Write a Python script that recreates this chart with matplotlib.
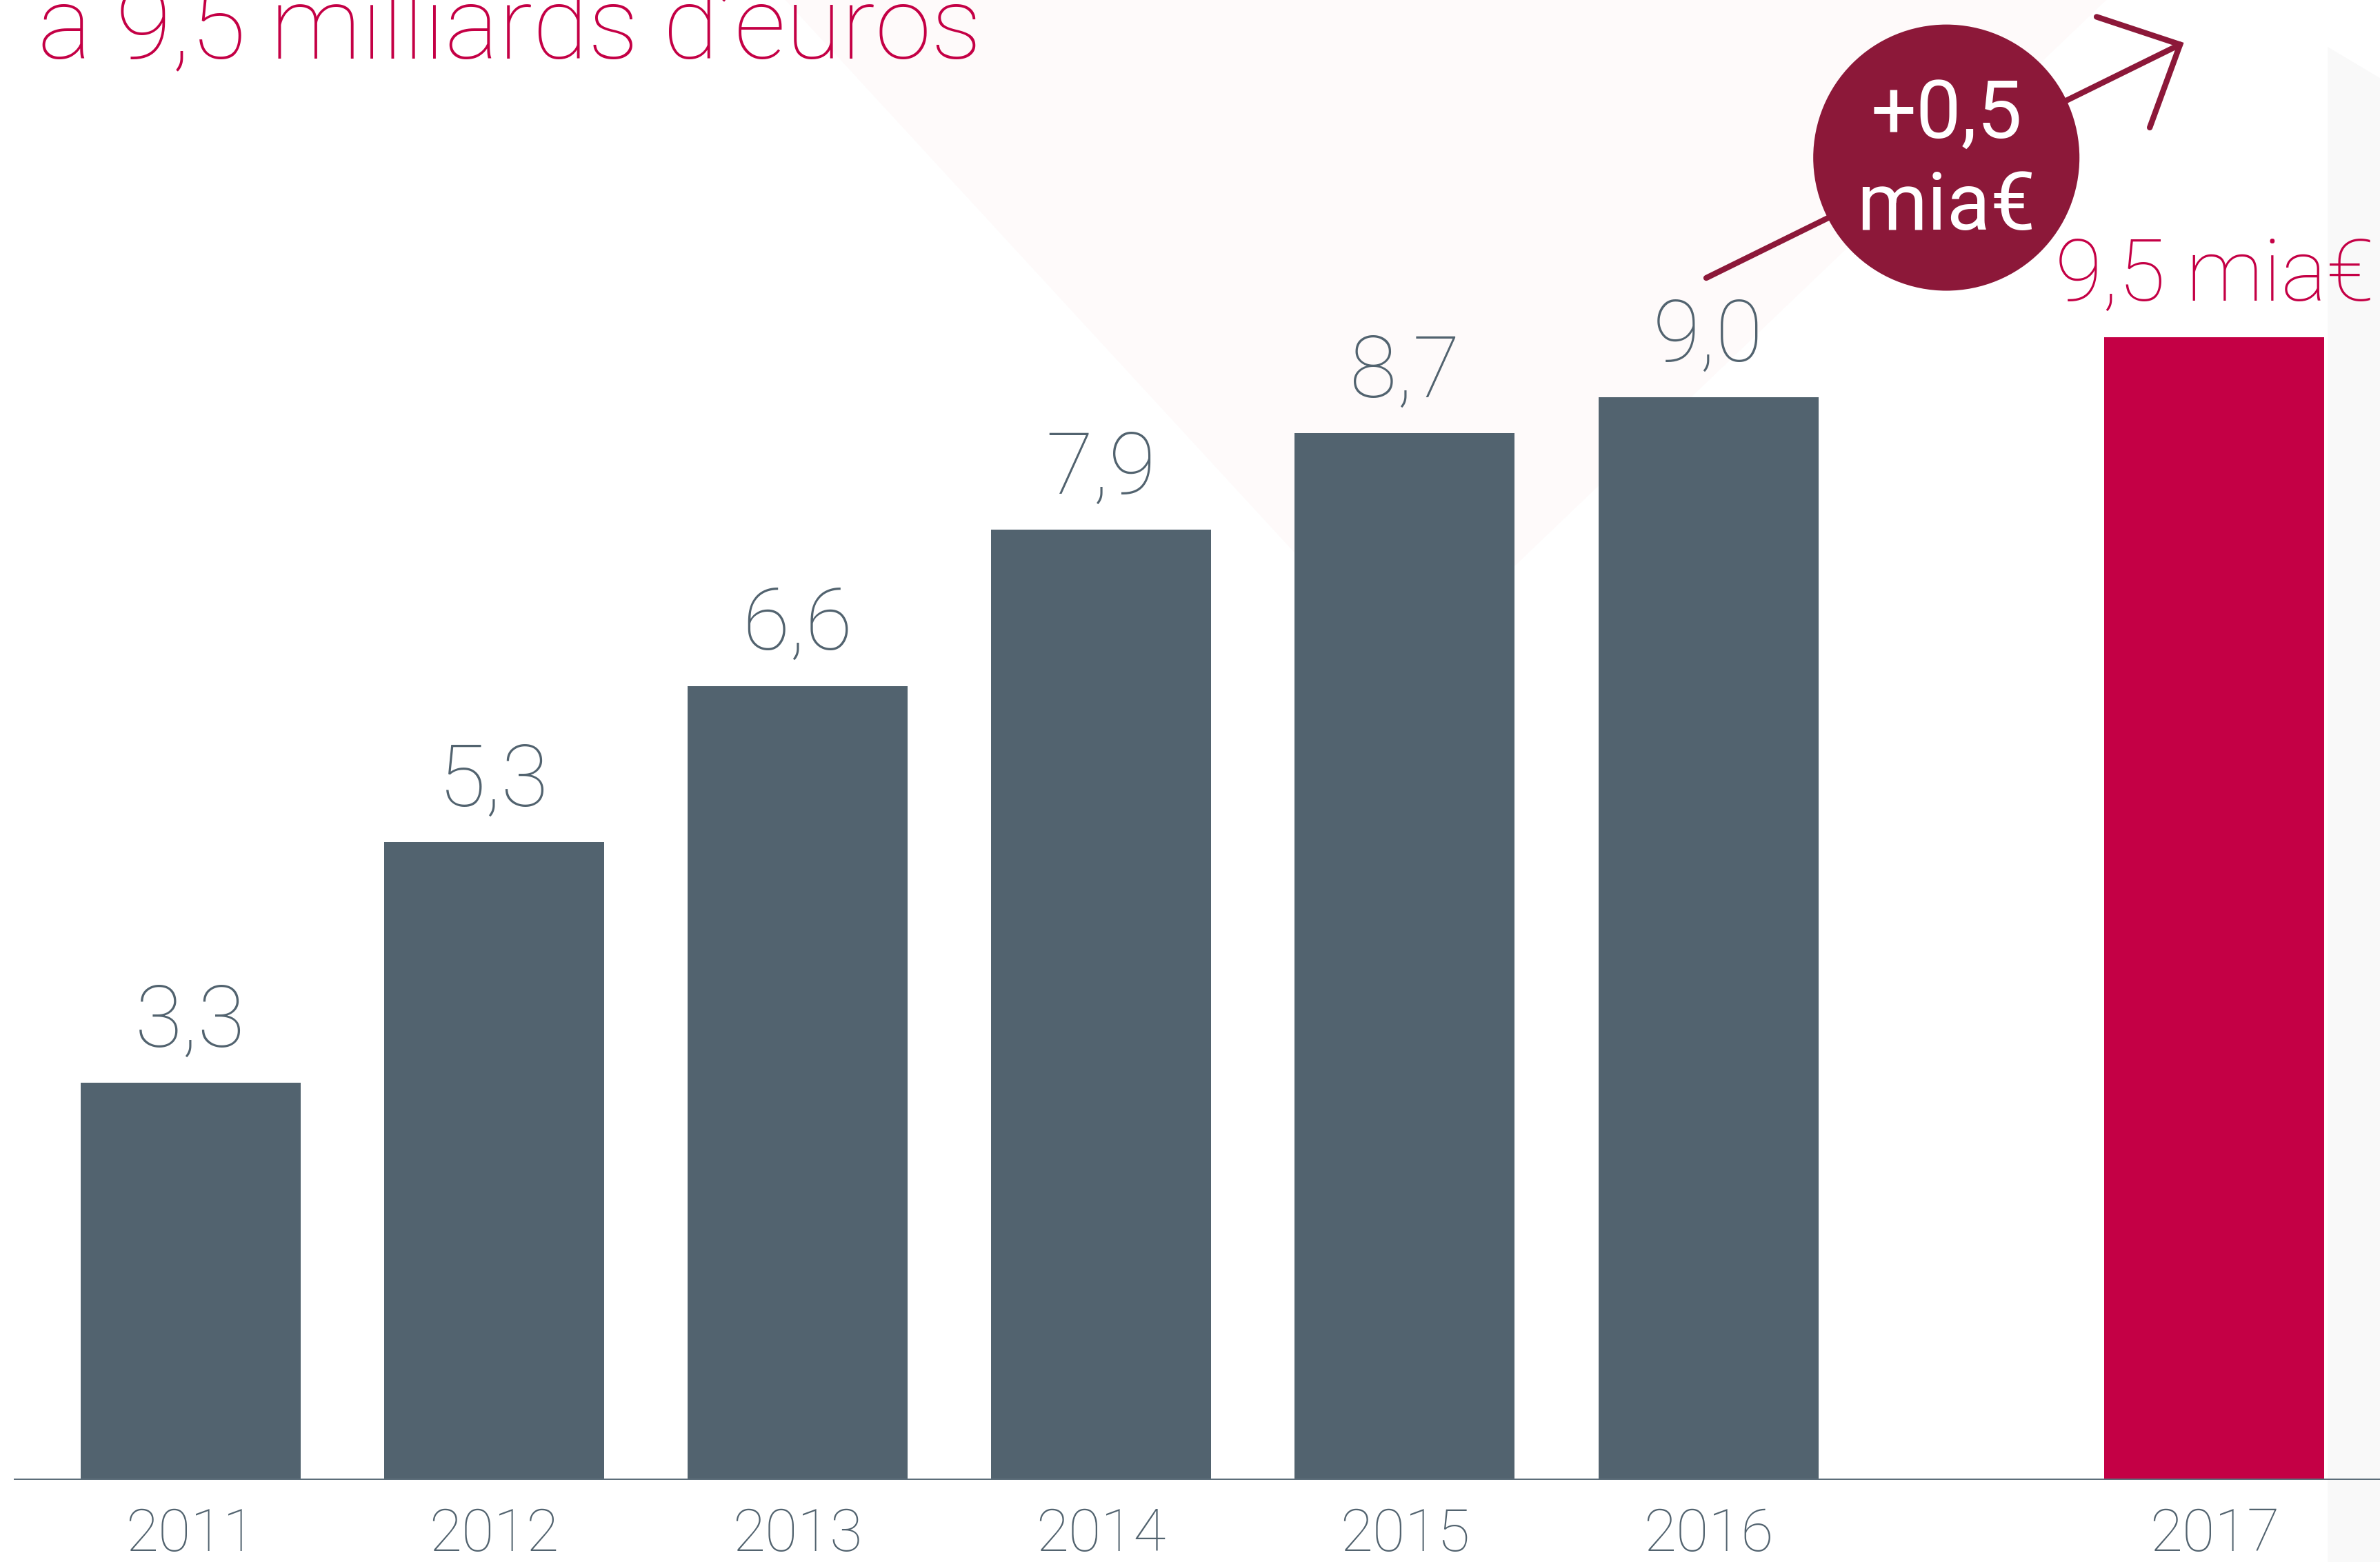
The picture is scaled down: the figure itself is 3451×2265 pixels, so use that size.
import matplotlib.pyplot as plt
from matplotlib.patches import Ellipse, Polygon

# data
years = ['2011', '2012', '2013', '2014', '2015', '2016', '2017']
values = [3.3, 5.3, 6.6, 7.9, 8.7, 9.0, 9.5]
value_labels = ['3,3', '5,3', '6,6', '7,9', '8,7', '9,0', '9,5 mia€']
positions = [0, 1, 2, 3, 4, 5, 6.667]
increase_label = ['+0,5', 'mia€']

grey = '#52636f'
red = '#c40045'
wine = '#8c1839'
bar_colors = [grey] * 6 + [red]

plt.rcParams['font.family'] = ['Roboto', 'DejaVu Sans']

fig = plt.figure(figsize=(34.51, 22.65), dpi=100)
fig.patch.set_facecolor('white')

ax = fig.add_axes([0, 0.0525, 1, 0.9475])
ax.set_facecolor('none')
ax.set_xlim(-0.6275, 7.2125)
ax.set_ylim(0, 12.3)
for s in ax.spines.values():
    s.set_visible(False)
ax.set_xticks([])
ax.set_yticks([])

# very faint shapes in the background
ax.add_patch(Polygon([[0.33, 1.0], [0.59, 0.57], [0.885, 1.0]], closed=True,
                     transform=fig.transFigure, facecolor='#fefafa',
                     edgecolor='none', zorder=0, clip_on=False))
ax.add_patch(Polygon([[0.978, 0.0], [1.0, 0.0], [1.0, 0.95], [0.978, 0.97]], closed=True,
                     transform=fig.transFigure, facecolor='#f9f9f9',
                     edgecolor='none', zorder=0, clip_on=False))

ax.bar(positions, values, width=0.725, color=bar_colors, zorder=2)
ax.axhline(0, xmin=0.0064, xmax=1, color='#5d6e7a', lw=3.6, zorder=3)

for x, v, lab, c in zip(positions, values, value_labels, bar_colors):
    ax.text(x, v + 0.3, lab, ha='center', va='baseline', fontsize=90,
            fontweight='light', color=c, zorder=4)

for x, yr in zip(positions, years):
    ax.text(x, -0.59, yr, ha='center', va='baseline', fontsize=62,
            fontweight='light', color=grey, clip_on=False)

# title line (second line of the headline, cut by the top edge)
ax.text(-0.5025, 11.81, 'à 9,5 milliards d’euros', ha='left', va='baseline',
        fontsize=106, fontweight='light', color=red, zorder=4)

# growth arrow behind the bubble
ax.plot([4.993, 6.554], [9.99, 11.93], color=wine, lw=6,
        solid_capstyle='round', zorder=4)
ax.plot([6.279, 6.554, 6.454], [12.16, 11.93, 11.24], color=wine, lw=6,
        solid_capstyle='round', solid_joinstyle='miter', zorder=4)
ax.add_patch(Ellipse((5.784, 10.99), 0.877, 2.212, facecolor=wine,
                     edgecolor='none', zorder=5))
ax.text(5.784, 11.155, increase_label[0], ha='center', va='baseline', fontsize=84,
        color='white', zorder=6)
ax.text(5.784, 10.39, increase_label[1], ha='center', va='baseline', fontsize=84,
        color='white', zorder=6)

fig.savefig('out.png', dpi=100, facecolor=fig.get_facecolor())
